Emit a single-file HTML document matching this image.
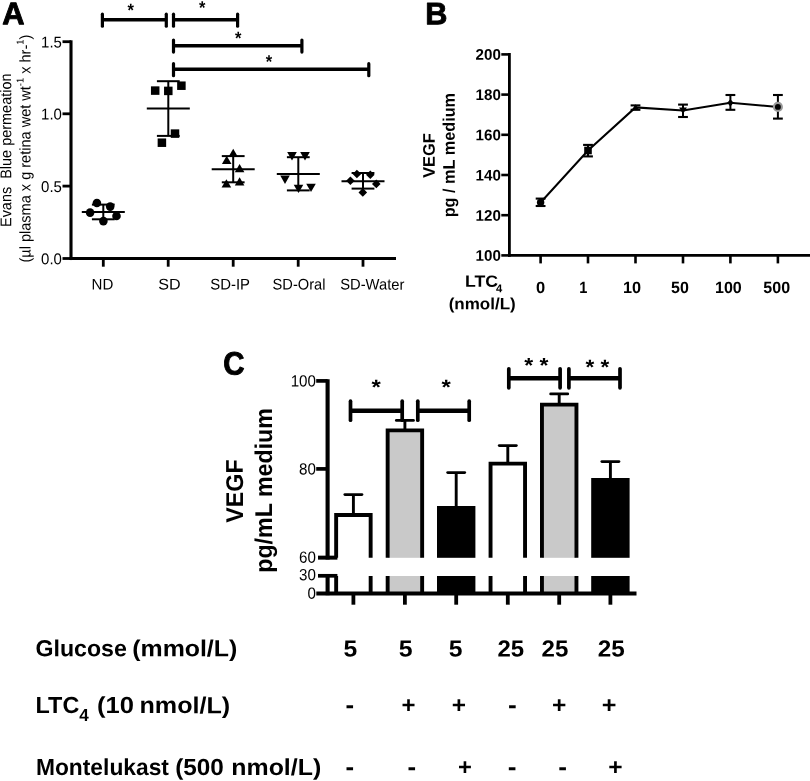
<!DOCTYPE html>
<html lang="en"><head><meta charset="utf-8"><title>Figure</title>
<style>html,body{margin:0;padding:0;background:#fff;}svg{display:block;}text{font-family:"Liberation Sans",Arial,Helvetica,sans-serif;fill:#000;}</style>
</head><body>
<svg width="810" height="781" viewBox="0 0 810 781">
<rect x="0" y="0" width="810" height="781" fill="#fff"/>
<g id="panelA">
<text transform="translate(2.25,24.35) rotate(0.03) scale(0.9951,1.0093)" font-size="31" font-weight="bold" stroke="#000" stroke-width="0.9" stroke-linejoin="round">A</text>
<line x1="71" y1="40.3" x2="71" y2="260.05" stroke="#000" stroke-width="3.1" stroke-linecap="butt"/>
<line x1="69.45" y1="258.5" x2="396" y2="258.5" stroke="#000" stroke-width="3.1" stroke-linecap="butt"/>
<line x1="62.5" y1="41.7" x2="71" y2="41.7" stroke="#000" stroke-width="2.8" stroke-linecap="butt"/>
<text transform="translate(61.9,47.5) rotate(0.03) scale(0.9600,1)" font-size="15.6" font-weight="normal" text-anchor="end">1.5</text>
<line x1="62.5" y1="113.8" x2="71" y2="113.8" stroke="#000" stroke-width="2.8" stroke-linecap="butt"/>
<text transform="translate(61.9,119.6) rotate(0.03) scale(0.9600,1)" font-size="15.6" font-weight="normal" text-anchor="end">1.0</text>
<line x1="62.5" y1="186.1" x2="71" y2="186.1" stroke="#000" stroke-width="2.8" stroke-linecap="butt"/>
<text transform="translate(61.9,191.9) rotate(0.03) scale(0.9600,1)" font-size="15.6" font-weight="normal" text-anchor="end">0.5</text>
<line x1="62.5" y1="258.5" x2="71" y2="258.5" stroke="#000" stroke-width="2.8" stroke-linecap="butt"/>
<text transform="translate(61.9,264.3) rotate(0.03) scale(0.9600,1)" font-size="15.6" font-weight="normal" text-anchor="end">0.0</text>
<line x1="103.3" y1="258.5" x2="103.3" y2="266.7" stroke="#000" stroke-width="2.8" stroke-linecap="butt"/>
<line x1="168.2" y1="258.5" x2="168.2" y2="266.7" stroke="#000" stroke-width="2.8" stroke-linecap="butt"/>
<line x1="233.2" y1="258.5" x2="233.2" y2="266.7" stroke="#000" stroke-width="2.8" stroke-linecap="butt"/>
<line x1="298.2" y1="258.5" x2="298.2" y2="266.7" stroke="#000" stroke-width="2.8" stroke-linecap="butt"/>
<line x1="363" y1="258.5" x2="363" y2="266.7" stroke="#000" stroke-width="2.8" stroke-linecap="butt"/>
<text transform="translate(91.53,289.6) rotate(0.03) scale(0.9800,1)" font-size="15.4" font-weight="normal">ND</text>
<text transform="translate(158.35,289.6) rotate(0.03) scale(1.0462,1)" font-size="15.4" font-weight="normal">SD</text>
<text transform="translate(210.23,289.6) rotate(0.03) scale(0.9692,1)" font-size="15.4" font-weight="normal">SD-IP</text>
<text transform="translate(272.55,289.6) rotate(0.03) scale(0.9514,1)" font-size="15.4" font-weight="normal">SD-Oral</text>
<text transform="translate(340.14,289.6) rotate(0.03) scale(0.9588,1)" font-size="15.4" font-weight="normal">SD-Water</text>
<text transform="translate(11.2,227) rotate(-90.03) scale(0.9333,1)" font-size="15.5" font-weight="normal">Evans&#160; Blue permeation</text>
<text transform="translate(30.6,262.54) rotate(-90.03) scale(0.9386,1)" font-size="15.5" font-weight="normal">(µl plasma x g retina wet wt<tspan font-size="10" dy="-7">-1</tspan><tspan dy="7"> x hr-</tspan><tspan font-size="10" dy="-7">1</tspan><tspan dy="7">)</tspan></text>
<line x1="102.4" y1="19.8" x2="166.3" y2="19.8" stroke="#000" stroke-width="3.5" stroke-linecap="butt"/>
<line x1="102.4" y1="14.2" x2="102.4" y2="26.2" stroke="#000" stroke-width="3.2" stroke-linecap="round"/>
<line x1="166.3" y1="14.2" x2="166.3" y2="26.2" stroke="#000" stroke-width="3.2" stroke-linecap="round"/>
<line x1="173.5" y1="19.75" x2="237.6" y2="19.75" stroke="#000" stroke-width="3.5" stroke-linecap="butt"/>
<line x1="173.5" y1="14.15" x2="173.5" y2="26.15" stroke="#000" stroke-width="3.2" stroke-linecap="round"/>
<line x1="237.6" y1="14.15" x2="237.6" y2="26.15" stroke="#000" stroke-width="3.2" stroke-linecap="round"/>
<line x1="173.5" y1="45.7" x2="301.9" y2="45.7" stroke="#000" stroke-width="3.5" stroke-linecap="butt"/>
<line x1="173.5" y1="40.1" x2="173.5" y2="52.1" stroke="#000" stroke-width="3.2" stroke-linecap="round"/>
<line x1="301.9" y1="40.1" x2="301.9" y2="52.1" stroke="#000" stroke-width="3.2" stroke-linecap="round"/>
<line x1="173.5" y1="69.3" x2="368.8" y2="69.3" stroke="#000" stroke-width="3.5" stroke-linecap="butt"/>
<line x1="173.5" y1="63.7" x2="173.5" y2="75.7" stroke="#000" stroke-width="3.2" stroke-linecap="round"/>
<line x1="368.8" y1="63.7" x2="368.8" y2="75.7" stroke="#000" stroke-width="3.2" stroke-linecap="round"/>
<text transform="translate(127.55,16.17) rotate(0.03) scale(0.9692,1.0667)" font-size="17" font-weight="bold">*</text>
<text transform="translate(199.05,13.67) rotate(0.03) scale(0.9692,1.0667)" font-size="17" font-weight="bold">*</text>
<text transform="translate(234.95,44.17) rotate(0.03) scale(0.9692,1.0667)" font-size="17" font-weight="bold">*</text>
<text transform="translate(265.85,67.67) rotate(0.03) scale(0.9692,1.0667)" font-size="17" font-weight="bold">*</text>
<line x1="81.8" y1="212.1" x2="124.8" y2="212.1" stroke="#000" stroke-width="2.0" stroke-linecap="butt"/>
<line x1="103.3" y1="204.6" x2="103.3" y2="219.3" stroke="#000" stroke-width="2.0" stroke-linecap="butt"/>
<line x1="91.9" y1="204.6" x2="114.7" y2="204.6" stroke="#000" stroke-width="2.0" stroke-linecap="butt"/>
<line x1="91.9" y1="219.3" x2="114.7" y2="219.3" stroke="#000" stroke-width="2.0" stroke-linecap="butt"/>
<circle cx="96.9" cy="203" r="4.3" fill="#000"/>
<circle cx="110.2" cy="206.6" r="4.3" fill="#000"/>
<circle cx="90.1" cy="212.6" r="4.3" fill="#000"/>
<circle cx="116.5" cy="216" r="4.3" fill="#000"/>
<circle cx="103.4" cy="221.1" r="4.3" fill="#000"/>
<line x1="146.8" y1="108.6" x2="189.8" y2="108.6" stroke="#000" stroke-width="2.0" stroke-linecap="butt"/>
<line x1="168.3" y1="81.2" x2="168.3" y2="135.9" stroke="#000" stroke-width="2.0" stroke-linecap="butt"/>
<line x1="156.9" y1="81.2" x2="179.7" y2="81.2" stroke="#000" stroke-width="2.0" stroke-linecap="butt"/>
<line x1="156.9" y1="135.9" x2="179.7" y2="135.9" stroke="#000" stroke-width="2.0" stroke-linecap="butt"/>
<rect x="150.95" y="86.35" width="8.5" height="8.5" fill="#000"/>
<rect x="164.05" y="86.65" width="8.5" height="8.5" fill="#000"/>
<rect x="177.15" y="81.45" width="8.5" height="8.5" fill="#000"/>
<rect x="170.75" y="129.35" width="8.5" height="8.5" fill="#000"/>
<rect x="157.65" y="138.45" width="8.5" height="8.5" fill="#000"/>
<line x1="211.7" y1="169.3" x2="254.7" y2="169.3" stroke="#000" stroke-width="2.0" stroke-linecap="butt"/>
<line x1="233.2" y1="156.1" x2="233.2" y2="182.3" stroke="#000" stroke-width="2.0" stroke-linecap="butt"/>
<line x1="221.8" y1="156.1" x2="244.6" y2="156.1" stroke="#000" stroke-width="2.0" stroke-linecap="butt"/>
<line x1="221.8" y1="182.3" x2="244.6" y2="182.3" stroke="#000" stroke-width="2.0" stroke-linecap="butt"/>
<polygon points="233.2,148.7 238.0,157.1 228.39999999999998,157.1" fill="#000"/>
<polygon points="226.7,155.7 231.5,164.1 221.89999999999998,164.1" fill="#000"/>
<polygon points="239.6,163.89999999999998 244.4,172.29999999999998 234.79999999999998,172.29999999999998" fill="#000"/>
<polygon points="226.4,179.2 231.20000000000002,187.6 221.6,187.6" fill="#000"/>
<polygon points="239.6,177.2 244.4,185.6 234.79999999999998,185.6" fill="#000"/>
<line x1="276.8" y1="174" x2="319.8" y2="174" stroke="#000" stroke-width="2.0" stroke-linecap="butt"/>
<line x1="298.3" y1="157.2" x2="298.3" y2="190.4" stroke="#000" stroke-width="2.0" stroke-linecap="butt"/>
<line x1="286.9" y1="157.2" x2="309.7" y2="157.2" stroke="#000" stroke-width="2.0" stroke-linecap="butt"/>
<line x1="286.9" y1="190.4" x2="309.7" y2="190.4" stroke="#000" stroke-width="2.0" stroke-linecap="butt"/>
<polygon points="292,160.4 296.8,152.0 287.2,152.0" fill="#000"/>
<polygon points="305,160.4 309.8,152.0 300.2,152.0" fill="#000"/>
<polygon points="285,184.0 289.8,175.6 280.2,175.6" fill="#000"/>
<polygon points="298.5,193.10000000000002 303.3,184.70000000000002 293.7,184.70000000000002" fill="#000"/>
<polygon points="311,192.10000000000002 315.8,183.70000000000002 306.2,183.70000000000002" fill="#000"/>
<line x1="341.5" y1="181.3" x2="384.5" y2="181.3" stroke="#000" stroke-width="2.0" stroke-linecap="butt"/>
<line x1="363" y1="173" x2="363" y2="188.6" stroke="#000" stroke-width="2.0" stroke-linecap="butt"/>
<line x1="351.6" y1="173" x2="374.4" y2="173" stroke="#000" stroke-width="2.0" stroke-linecap="butt"/>
<line x1="351.6" y1="188.6" x2="374.4" y2="188.6" stroke="#000" stroke-width="2.0" stroke-linecap="butt"/>
<polygon points="356.9,169.7 361.2,174 356.9,178.3 352.59999999999997,174" fill="#000"/>
<polygon points="370.3,170.5 374.6,174.8 370.3,179.10000000000002 366.0,174.8" fill="#000"/>
<polygon points="350.4,176.5 354.7,180.8 350.4,185.10000000000002 346.09999999999997,180.8" fill="#000"/>
<polygon points="376.3,179.6 380.6,183.9 376.3,188.20000000000002 372.0,183.9" fill="#000"/>
<polygon points="362.8,188.1 367.1,192.4 362.8,196.70000000000002 358.5,192.4" fill="#000"/>
</g>
<g id="panelB">
<text transform="translate(425.27,24.35) rotate(0.03) scale(0.9895,0.9953)" font-size="31" font-weight="bold" stroke="#000" stroke-width="0.9" stroke-linejoin="round">B</text>
<line x1="509.4" y1="53" x2="509.4" y2="256.8" stroke="#000" stroke-width="2.8" stroke-linecap="butt"/>
<line x1="508" y1="255.4" x2="810" y2="255.4" stroke="#000" stroke-width="2.8" stroke-linecap="butt"/>
<line x1="501.3" y1="54.4" x2="509.4" y2="54.4" stroke="#000" stroke-width="2.6" stroke-linecap="butt"/>
<text transform="translate(500.9,59.85) rotate(0.03) scale(0.9850,1)" font-size="15.4" font-weight="bold" text-anchor="end">200</text>
<line x1="501.3" y1="94.6" x2="509.4" y2="94.6" stroke="#000" stroke-width="2.6" stroke-linecap="butt"/>
<text transform="translate(500.9,100.05) rotate(0.03) scale(0.9850,1)" font-size="15.4" font-weight="bold" text-anchor="end">180</text>
<line x1="501.3" y1="134.8" x2="509.4" y2="134.8" stroke="#000" stroke-width="2.6" stroke-linecap="butt"/>
<text transform="translate(500.9,140.25) rotate(0.03) scale(0.9850,1)" font-size="15.4" font-weight="bold" text-anchor="end">160</text>
<line x1="501.3" y1="175" x2="509.4" y2="175" stroke="#000" stroke-width="2.6" stroke-linecap="butt"/>
<text transform="translate(500.9,180.45) rotate(0.03) scale(0.9850,1)" font-size="15.4" font-weight="bold" text-anchor="end">140</text>
<line x1="501.3" y1="215.2" x2="509.4" y2="215.2" stroke="#000" stroke-width="2.6" stroke-linecap="butt"/>
<text transform="translate(500.9,220.65) rotate(0.03) scale(0.9850,1)" font-size="15.4" font-weight="bold" text-anchor="end">120</text>
<line x1="501.3" y1="255.4" x2="509.4" y2="255.4" stroke="#000" stroke-width="2.6" stroke-linecap="butt"/>
<text transform="translate(500.9,260.85) rotate(0.03) scale(0.9850,1)" font-size="15.4" font-weight="bold" text-anchor="end">100</text>
<line x1="540.6" y1="255.4" x2="540.6" y2="263.4" stroke="#000" stroke-width="2.6" stroke-linecap="butt"/>
<line x1="588" y1="255.4" x2="588" y2="263.4" stroke="#000" stroke-width="2.6" stroke-linecap="butt"/>
<line x1="635.5" y1="255.4" x2="635.5" y2="263.4" stroke="#000" stroke-width="2.6" stroke-linecap="butt"/>
<line x1="683" y1="255.4" x2="683" y2="263.4" stroke="#000" stroke-width="2.6" stroke-linecap="butt"/>
<line x1="730.4" y1="255.4" x2="730.4" y2="263.4" stroke="#000" stroke-width="2.6" stroke-linecap="butt"/>
<line x1="777.9" y1="255.4" x2="777.9" y2="263.4" stroke="#000" stroke-width="2.6" stroke-linecap="butt"/>
<text transform="translate(536.09,292.9) rotate(0.03) scale(1.0125,1)" font-size="16.3" font-weight="bold">0</text>
<text transform="translate(579.21,292.9) rotate(0.03) scale(0.8933,1)" font-size="16.3" font-weight="bold">1</text>
<text transform="translate(623,292.9) rotate(0.03) scale(1.0000,1)" font-size="16.3" font-weight="bold">10</text>
<text transform="translate(671.11,292.9) rotate(0.03) scale(0.9824,1)" font-size="16.3" font-weight="bold">50</text>
<text transform="translate(715.02,292.9) rotate(0.03) scale(0.9843,1)" font-size="16.3" font-weight="bold">100</text>
<text transform="translate(763.31,292.9) rotate(0.03) scale(0.9846,1)" font-size="16.3" font-weight="bold">500</text>
<text transform="translate(465.11,286.8) rotate(0.03) scale(1.0912,1)" font-size="16.2" font-weight="bold">LTC</text>
<text transform="translate(495.9,292.2) rotate(0.03) scale(1.0667,1.0857)" font-size="10.5" font-weight="bold">4</text>
<text transform="translate(448.65,309.3) rotate(0.03) scale(1.0516,1)" font-size="16.2" font-weight="bold">(nmol/L)</text>
<text transform="translate(434.7,177.8) rotate(-90.03) scale(0.9756,1)" font-size="16.8" font-weight="bold">VEGF</text>
<text transform="translate(454.8,217.37) rotate(-90.03) scale(0.9692,1)" font-size="16.8" font-weight="bold">pg / mL medium</text>
<polyline fill="none" stroke="#000" stroke-width="2.0" points="540.6,202.5 588,150.5 635.5,107.4 683,110.6 730.4,102.8 777.9,106.9"/>
<line x1="540.6" y1="198.6" x2="540.6" y2="206" stroke="#000" stroke-width="2.0" stroke-linecap="butt"/>
<line x1="535.7" y1="198.6" x2="545.5" y2="198.6" stroke="#000" stroke-width="2.1" stroke-linecap="butt"/>
<line x1="535.7" y1="206" x2="545.5" y2="206" stroke="#000" stroke-width="2.1" stroke-linecap="butt"/>
<line x1="588" y1="144.9" x2="588" y2="156.4" stroke="#000" stroke-width="2.0" stroke-linecap="butt"/>
<line x1="583.1" y1="144.9" x2="592.9" y2="144.9" stroke="#000" stroke-width="2.1" stroke-linecap="butt"/>
<line x1="583.1" y1="156.4" x2="592.9" y2="156.4" stroke="#000" stroke-width="2.1" stroke-linecap="butt"/>
<line x1="635.5" y1="105.4" x2="635.5" y2="109.8" stroke="#000" stroke-width="2.0" stroke-linecap="butt"/>
<line x1="630.6" y1="105.4" x2="640.4" y2="105.4" stroke="#000" stroke-width="2.1" stroke-linecap="butt"/>
<line x1="630.6" y1="109.8" x2="640.4" y2="109.8" stroke="#000" stroke-width="2.1" stroke-linecap="butt"/>
<line x1="683" y1="104.6" x2="683" y2="117" stroke="#000" stroke-width="2.0" stroke-linecap="butt"/>
<line x1="678.1" y1="104.6" x2="687.9" y2="104.6" stroke="#000" stroke-width="2.1" stroke-linecap="butt"/>
<line x1="678.1" y1="117" x2="687.9" y2="117" stroke="#000" stroke-width="2.1" stroke-linecap="butt"/>
<line x1="730.4" y1="95" x2="730.4" y2="109.8" stroke="#000" stroke-width="2.0" stroke-linecap="butt"/>
<line x1="725.5" y1="95" x2="735.3" y2="95" stroke="#000" stroke-width="2.1" stroke-linecap="butt"/>
<line x1="725.5" y1="109.8" x2="735.3" y2="109.8" stroke="#000" stroke-width="2.1" stroke-linecap="butt"/>
<line x1="777.9" y1="95" x2="777.9" y2="118.6" stroke="#000" stroke-width="2.0" stroke-linecap="butt"/>
<line x1="773" y1="95" x2="782.8" y2="95" stroke="#000" stroke-width="2.1" stroke-linecap="butt"/>
<line x1="773" y1="118.6" x2="782.8" y2="118.6" stroke="#000" stroke-width="2.1" stroke-linecap="butt"/>
<circle cx="540.6" cy="202.5" r="3.7" fill="#000"/>
<rect x="584.2" y="146.7" width="7.6" height="7.6" fill="#000"/>
<polygon points="635.5,104.2 638.9,109.80000000000001 632.1,109.80000000000001" fill="#000"/>
<polygon points="683,114.0 686.9,107.6 679.1,107.6" fill="#000"/>
<polygon points="730.4,99.2 733.6,102.8 730.4,106.39999999999999 727.1999999999999,102.8" fill="#000"/>
<circle cx="777.9" cy="106.9" r="4.0" fill="#000" stroke="#999" stroke-width="2.1"/>
</g>
<g id="panelC">
<text transform="translate(223.32,374.55) rotate(0.03) scale(0.9500,1.0419)" font-size="31" font-weight="bold" stroke="#000" stroke-width="0.9" stroke-linejoin="round">C</text>
<line x1="353.4" y1="494.6" x2="353.4" y2="515" stroke="#000" stroke-width="2.9" stroke-linecap="butt"/>
<line x1="344.9" y1="494.6" x2="361.9" y2="494.6" stroke="#000" stroke-width="2.9" stroke-linecap="round"/>
<rect x="336.15" y="514.95" width="34.5" height="42.85" fill="#fff"/>
<polyline fill="none" stroke="#000" stroke-width="3.9" points="336.15,557.8 336.15,514.95 370.65,514.95 370.65,557.8"/>
<rect x="336.15" y="576" width="34.5" height="17.5" fill="#fff"/>
<line x1="336.15" y1="576" x2="336.15" y2="593.5" stroke="#000" stroke-width="3.9" stroke-linecap="butt"/>
<line x1="370.65" y1="576" x2="370.65" y2="593.5" stroke="#000" stroke-width="3.9" stroke-linecap="butt"/>
<line x1="404.9" y1="420.4" x2="404.9" y2="430.4" stroke="#000" stroke-width="2.9" stroke-linecap="butt"/>
<line x1="396.4" y1="420.4" x2="413.4" y2="420.4" stroke="#000" stroke-width="2.9" stroke-linecap="round"/>
<rect x="387.65" y="430.35" width="34.5" height="127.45" fill="#c9c9c9"/>
<polyline fill="none" stroke="#000" stroke-width="3.9" points="387.65,557.8 387.65,430.35 422.15,430.35 422.15,557.8"/>
<rect x="387.65" y="576" width="34.5" height="17.5" fill="#c9c9c9"/>
<line x1="387.65" y1="576" x2="387.65" y2="593.5" stroke="#000" stroke-width="3.9" stroke-linecap="butt"/>
<line x1="422.15" y1="576" x2="422.15" y2="593.5" stroke="#000" stroke-width="3.9" stroke-linecap="butt"/>
<line x1="456.2" y1="472.6" x2="456.2" y2="508" stroke="#000" stroke-width="2.9" stroke-linecap="butt"/>
<line x1="447.7" y1="472.6" x2="464.7" y2="472.6" stroke="#000" stroke-width="2.9" stroke-linecap="round"/>
<rect x="437" y="506" width="38.4" height="51.8" fill="#000"/>
<rect x="437" y="576" width="38.4" height="17.5" fill="#000"/>
<line x1="507.8" y1="445.6" x2="507.8" y2="463.7" stroke="#000" stroke-width="2.9" stroke-linecap="butt"/>
<line x1="499.3" y1="445.6" x2="516.3" y2="445.6" stroke="#000" stroke-width="2.9" stroke-linecap="round"/>
<rect x="490.55" y="463.65" width="34.5" height="94.15" fill="#fff"/>
<polyline fill="none" stroke="#000" stroke-width="3.9" points="490.55,557.8 490.55,463.65 525.05,463.65 525.05,557.8"/>
<rect x="490.55" y="576" width="34.5" height="17.5" fill="#fff"/>
<line x1="490.55" y1="576" x2="490.55" y2="593.5" stroke="#000" stroke-width="3.9" stroke-linecap="butt"/>
<line x1="525.05" y1="576" x2="525.05" y2="593.5" stroke="#000" stroke-width="3.9" stroke-linecap="butt"/>
<line x1="559.2" y1="393.9" x2="559.2" y2="404.7" stroke="#000" stroke-width="2.9" stroke-linecap="butt"/>
<line x1="550.7" y1="393.9" x2="567.7" y2="393.9" stroke="#000" stroke-width="2.9" stroke-linecap="round"/>
<rect x="541.95" y="404.65" width="34.5" height="153.15" fill="#c9c9c9"/>
<polyline fill="none" stroke="#000" stroke-width="3.9" points="541.95,557.8 541.95,404.65 576.45,404.65 576.45,557.8"/>
<rect x="541.95" y="576" width="34.5" height="17.5" fill="#c9c9c9"/>
<line x1="541.95" y1="576" x2="541.95" y2="593.5" stroke="#000" stroke-width="3.9" stroke-linecap="butt"/>
<line x1="576.45" y1="576" x2="576.45" y2="593.5" stroke="#000" stroke-width="3.9" stroke-linecap="butt"/>
<line x1="610.4" y1="461.6" x2="610.4" y2="480" stroke="#000" stroke-width="2.9" stroke-linecap="butt"/>
<line x1="601.9" y1="461.6" x2="618.9" y2="461.6" stroke="#000" stroke-width="2.9" stroke-linecap="round"/>
<rect x="591.2" y="478" width="38.4" height="79.8" fill="#000"/>
<rect x="591.2" y="576" width="38.4" height="17.5" fill="#000"/>
<line x1="327.6" y1="379.2" x2="327.6" y2="559.5" stroke="#000" stroke-width="4.1" stroke-linecap="butt"/>
<line x1="327.6" y1="574.1" x2="327.6" y2="595.2" stroke="#000" stroke-width="4.1" stroke-linecap="butt"/>
<line x1="316.3" y1="593.5" x2="636.5" y2="593.5" stroke="#000" stroke-width="3.8" stroke-linecap="butt"/>
<line x1="316.2" y1="380.9" x2="327.6" y2="380.9" stroke="#000" stroke-width="3.7" stroke-linecap="butt"/>
<line x1="316.2" y1="468.9" x2="327.6" y2="468.9" stroke="#000" stroke-width="3.7" stroke-linecap="butt"/>
<line x1="318" y1="557.65" x2="337.4" y2="557.65" stroke="#000" stroke-width="4.0" stroke-linecap="butt"/>
<line x1="318" y1="575.8" x2="337.4" y2="575.8" stroke="#000" stroke-width="3.7" stroke-linecap="butt"/>
<line x1="353.4" y1="593.5" x2="353.4" y2="604.7" stroke="#000" stroke-width="3.8" stroke-linecap="butt"/>
<line x1="404.9" y1="593.5" x2="404.9" y2="604.7" stroke="#000" stroke-width="3.8" stroke-linecap="butt"/>
<line x1="456.2" y1="593.5" x2="456.2" y2="604.7" stroke="#000" stroke-width="3.8" stroke-linecap="butt"/>
<line x1="507.8" y1="593.5" x2="507.8" y2="604.7" stroke="#000" stroke-width="3.8" stroke-linecap="butt"/>
<line x1="559.2" y1="593.5" x2="559.2" y2="604.7" stroke="#000" stroke-width="3.8" stroke-linecap="butt"/>
<line x1="610.4" y1="593.5" x2="610.4" y2="604.7" stroke="#000" stroke-width="3.8" stroke-linecap="butt"/>
<text transform="translate(315.9,386.55) rotate(0.03) scale(0.9300,1)" font-size="16.3" font-weight="normal" text-anchor="end">100</text>
<text transform="translate(315.9,474.55) rotate(0.03) scale(0.9300,1)" font-size="16.3" font-weight="normal" text-anchor="end">80</text>
<text transform="translate(315.9,562.65) rotate(0.03) scale(0.9300,1)" font-size="16.3" font-weight="normal" text-anchor="end">60</text>
<text transform="translate(315.9,580.35) rotate(0.03) scale(0.9300,1)" font-size="16.3" font-weight="normal" text-anchor="end">30</text>
<text transform="translate(315.9,598.85) rotate(0.03) scale(0.9300,1)" font-size="16.3" font-weight="normal" text-anchor="end">0</text>
<text transform="translate(242.9,522.78) rotate(-90.03) scale(0.9628,1)" font-size="24.2" font-weight="bold">VEGF</text>
<text transform="translate(272,572.74) rotate(-90.03) scale(0.9596,1)" font-size="24.2" font-weight="bold">pg/mL medium</text>
<line x1="350.5" y1="410.7" x2="402.2" y2="410.7" stroke="#000" stroke-width="4.4" stroke-linecap="butt"/>
<line x1="350.5" y1="401.2" x2="350.5" y2="420.2" stroke="#000" stroke-width="3.7" stroke-linecap="round"/>
<line x1="402.2" y1="401.2" x2="402.2" y2="420.2" stroke="#000" stroke-width="3.7" stroke-linecap="round"/>
<line x1="417.8" y1="410.7" x2="469.2" y2="410.7" stroke="#000" stroke-width="4.4" stroke-linecap="butt"/>
<line x1="417.8" y1="401.2" x2="417.8" y2="420.2" stroke="#000" stroke-width="3.7" stroke-linecap="round"/>
<line x1="469.2" y1="401.2" x2="469.2" y2="420.2" stroke="#000" stroke-width="3.7" stroke-linecap="round"/>
<line x1="508.8" y1="378.3" x2="560.1" y2="378.3" stroke="#000" stroke-width="4.4" stroke-linecap="butt"/>
<line x1="508.8" y1="368.8" x2="508.8" y2="387.8" stroke="#000" stroke-width="3.7" stroke-linecap="round"/>
<line x1="560.1" y1="368.8" x2="560.1" y2="387.8" stroke="#000" stroke-width="3.7" stroke-linecap="round"/>
<line x1="568.9" y1="378.3" x2="620" y2="378.3" stroke="#000" stroke-width="4.4" stroke-linecap="butt"/>
<line x1="568.9" y1="368.8" x2="568.9" y2="387.8" stroke="#000" stroke-width="3.7" stroke-linecap="round"/>
<line x1="620" y1="368.8" x2="620" y2="387.8" stroke="#000" stroke-width="3.7" stroke-linecap="round"/>
<text transform="translate(371.48,394.18) rotate(0.03) scale(1.0375,0.9176)" font-size="23" font-weight="bold">*</text>
<text transform="translate(441.48,394.18) rotate(0.03) scale(1.0375,0.9176)" font-size="23" font-weight="bold">*</text>
<text transform="translate(524.2,372.48) rotate(0.03) scale(0.9957,0.9176)" font-size="23" font-weight="bold">* *</text>
<text transform="translate(585.61,374.18) rotate(0.03) scale(0.9787,0.9176)" font-size="23" font-weight="bold">* *</text>
</g>
<g id="table">
<text transform="translate(35.5,656.3) rotate(0.03) scale(0.9989,1)" font-size="23.2" font-weight="bold">Glucose</text>
<text transform="translate(132.23,656.3) rotate(0.03) scale(1.0733,1)" font-size="23.2" font-weight="bold">(mmol/L)</text>
<text transform="translate(35.59,713.1) rotate(0.03) scale(1.0073,1)" font-size="23.2" font-weight="bold">LTC</text>
<text transform="translate(79.2,720.9) rotate(0.03) scale(1.0667,1.0909)" font-size="16" font-weight="bold">4</text>
<text transform="translate(97,713.1) rotate(0.03) scale(1.1016,1)" font-size="23.2" font-weight="bold">(10</text>
<text transform="translate(139.47,713.1) rotate(0.03) scale(1.0840,1)" font-size="23.2" font-weight="bold">nmol/L)</text>
<text transform="translate(35.93,774.9) rotate(0.03) scale(0.9828,1)" font-size="23.2" font-weight="bold">Montelukast</text>
<text transform="translate(175.15,774.9) rotate(0.03) scale(1.0494,1)" font-size="23.2" font-weight="bold">(500</text>
<text transform="translate(231.29,774.9) rotate(0.03) scale(1.0741,1)" font-size="23.2" font-weight="bold">nmol/L)</text>
<text transform="translate(343.54,656.6) rotate(0.03) scale(1.0636,1)" font-size="23.2" font-weight="bold">5</text>
<text transform="translate(398.73,656.6) rotate(0.03) scale(1.0727,1)" font-size="23.2" font-weight="bold">5</text>
<text transform="translate(448.64,656.6) rotate(0.03) scale(1.0636,1)" font-size="23.2" font-weight="bold">5</text>
<text transform="translate(497.47,656.6) rotate(0.03) scale(1.0333,1)" font-size="23.2" font-weight="bold">25</text>
<text transform="translate(541.56,656.6) rotate(0.03) scale(1.0375,1)" font-size="23.2" font-weight="bold">25</text>
<text transform="translate(597.65,656.6) rotate(0.03) scale(1.0458,1)" font-size="23.2" font-weight="bold">25</text>
<text transform="translate(345.48,712.8) rotate(0.03) scale(1.1167,1)" font-size="23.2" font-weight="bold">-</text>
<text transform="translate(401.57,712.8) rotate(0.03) scale(1.0348,1)" font-size="23.2" font-weight="bold">+</text>
<text transform="translate(451.75,712.8) rotate(0.03) scale(1.0522,1)" font-size="23.2" font-weight="bold">+</text>
<text transform="translate(508.07,712.8) rotate(0.03) scale(1.1333,1)" font-size="23.2" font-weight="bold">-</text>
<text transform="translate(551.94,712.8) rotate(0.03) scale(1.0609,1)" font-size="23.2" font-weight="bold">+</text>
<text transform="translate(601.71,712.8) rotate(0.03) scale(1.0870,1)" font-size="23.2" font-weight="bold">+</text>
<text transform="translate(345.38,774.8) rotate(0.03) scale(1.1167,1)" font-size="23.2" font-weight="bold">-</text>
<text transform="translate(407.58,774.8) rotate(0.03) scale(1.1167,1)" font-size="23.2" font-weight="bold">-</text>
<text transform="translate(457.97,774.8) rotate(0.03) scale(1.0261,1)" font-size="23.2" font-weight="bold">+</text>
<text transform="translate(507.77,774.8) rotate(0.03) scale(1.1333,1)" font-size="23.2" font-weight="bold">-</text>
<text transform="translate(558.17,774.8) rotate(0.03) scale(1.1333,1)" font-size="23.2" font-weight="bold">-</text>
<text transform="translate(608.14,774.8) rotate(0.03) scale(1.0609,1)" font-size="23.2" font-weight="bold">+</text>
</g>
</svg>
</body></html>
